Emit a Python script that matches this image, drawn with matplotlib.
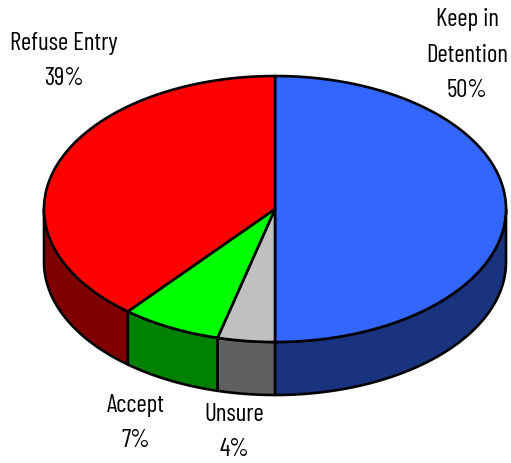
import numpy as np
import matplotlib
matplotlib.use('Agg')
import matplotlib.pyplot as plt
from matplotlib.patches import Polygon

labels = ['Keep in\nDetention\n50%', 'Unsure\n4%', 'Accept\n7%', 'Refuse Entry\n39%']
values = [50, 4, 7, 39]
top_colors = ['#3366ff', '#c0c0c0', '#00ff00', '#ff0000']
side_colors = ['#1a337f', '#606060', '#008000', '#800000']
label_pos = [(467, 55), (234, 432), (136, 423), (64, 61)]

W, H = 511, 463
cx, cy, rx, ry = 275, 209, 231, 133
depth = 53

fig = plt.figure(figsize=(W / 100, H / 100), dpi=100)
ax = fig.add_axes([0, 0, 1, 1])
ax.set_xlim(0, W)
ax.set_ylim(H, 0)
ax.axis('off')


def pts(a0, a1, dy=0):
    # angles clockwise from 12 o'clock
    t = np.radians(np.linspace(a0, a1, 200))
    return np.column_stack([cx + rx * np.sin(t), cy - ry * np.cos(t) + dy])


start = 0
for v, side in zip(values, side_colors):
    end = start + v * 3.6
    # side wall only shows on the front half
    a0, a1 = max(start, 90), min(end, 270)
    if a1 > a0:
        upper = pts(a0, a1)
        lower = pts(a0, a1, depth)[::-1]
        ax.add_patch(Polygon(np.vstack([upper, lower]), fc=side, ec='black', lw=1.9, joinstyle='round'))
    start = end

start = 0
for v, top in zip(values, top_colors):
    end = start + v * 3.6
    ax.add_patch(Polygon(np.vstack([[cx, cy], pts(start, end)]), fc=top, ec='black', lw=1.9, joinstyle='round'))
    start = end

for lab, (x, y) in zip(labels, label_pos):
    ax.text(x, y, lab, ha='center', va='center', fontsize=18, family=['Barlow Condensed', 'Liberation Sans'],
            linespacing=1.7, color='black', clip_on=False)

fig.savefig('out.png', dpi=100)
